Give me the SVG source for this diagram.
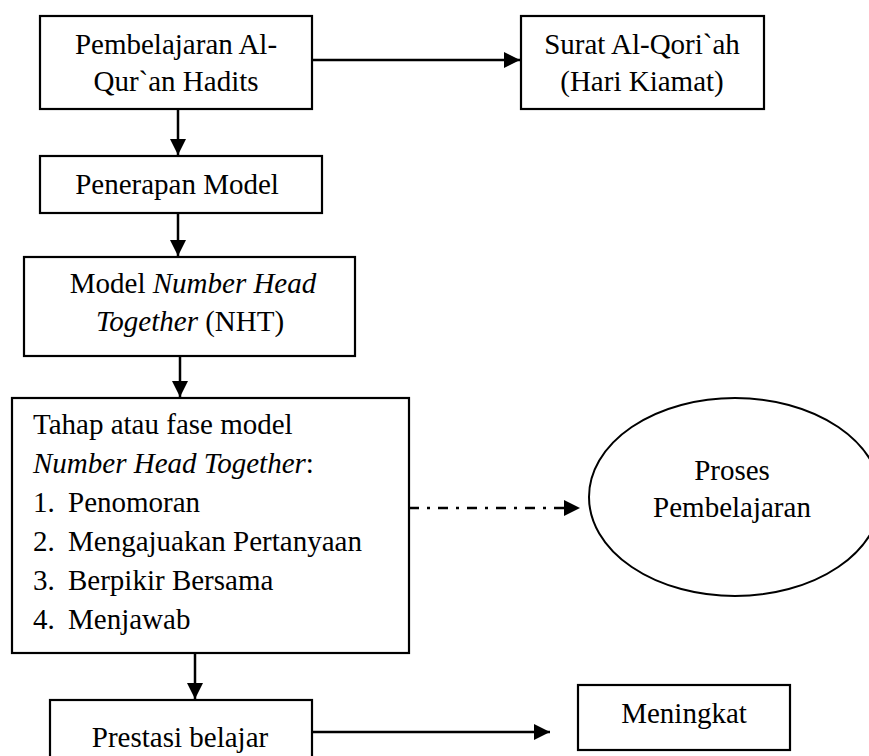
<svg xmlns="http://www.w3.org/2000/svg" width="869" height="756" viewBox="0 0 869 756">
<style>
.box{fill:#fff;stroke:#000;stroke-width:2.2}
.t{font-family:"Liberation Serif","Times New Roman",serif;font-size:29px;fill:#000}
.c{text-anchor:middle}
.i{font-style:italic}
.ln{stroke:#000;stroke-width:2.5;fill:none}
</style>
<defs>
<marker id="ah" markerUnits="userSpaceOnUse" markerWidth="18" markerHeight="18" refX="16" refY="8" orient="auto">
<path d="M0,0 L16,8 L0,16 z" fill="#000"/>
</marker>
</defs>
<rect width="869" height="756" fill="#fff"/>
<g id="connectors">
<line class="ln" x1="312" y1="60" x2="520" y2="60" marker-end="url(#ah)"/>
<line class="ln" x1="178" y1="109" x2="178" y2="155" marker-end="url(#ah)"/>
<line class="ln" x1="178" y1="213" x2="178" y2="256" marker-end="url(#ah)"/>
<line class="ln" x1="180" y1="356" x2="180" y2="397" marker-end="url(#ah)"/>
<line class="ln" x1="409" y1="508" x2="580" y2="508" stroke-dasharray="10 8 3 8" marker-end="url(#ah)"/>
<line class="ln" x1="195" y1="653" x2="195" y2="699" marker-end="url(#ah)"/>
<line class="ln" x1="312" y1="732" x2="550" y2="732" marker-end="url(#ah)"/>
</g>
<g id="n1">
<rect class="box" x="40" y="16" width="272" height="93"/>
<text class="t c" x="176" y="54">Pembelajaran Al-</text>
<text class="t c" x="176" y="91">Qur`an Hadits</text>
</g>
<g id="n2">
<rect class="box" x="521" y="16" width="243" height="93"/>
<text class="t c" x="642" y="54">Surat Al-Qori`ah</text>
<text class="t c" x="642" y="91">(Hari Kiamat)</text>
</g>
<g id="n3">
<rect class="box" x="40" y="156" width="282" height="57"/>
<text class="t c" x="177" y="194">Penerapan Model</text>
</g>
<g id="n4">
<rect class="box" x="24" y="257" width="331" height="99"/>
<text class="t c" x="193" y="293">Model <tspan class="i">Number Head</tspan></text>
<text class="t c" x="190" y="331"><tspan class="i">Together</tspan> (NHT)</text>
</g>
<g id="n5">
<rect class="box" x="12" y="398" width="397" height="255"/>
<text class="t" x="33" y="434">Tahap atau fase model</text>
<text class="t" x="33" y="473"><tspan class="i">Number Head Together</tspan>:</text>
<text class="t" x="33" y="512">1.</text><text class="t" x="68" y="512">Penomoran</text>
<text class="t" x="33" y="551">2.</text><text class="t" x="68" y="551">Mengajuakan Pertanyaan</text>
<text class="t" x="33" y="590">3.</text><text class="t" x="68" y="590">Berpikir Bersama</text>
<text class="t" x="33" y="629">4.</text><text class="t" x="68" y="629">Menjawab</text>
</g>
<g id="n6">
<ellipse cx="735" cy="497" rx="146" ry="99" fill="#fff" stroke="#000" stroke-width="2"/>
<text class="t c" x="732" y="480">Proses</text>
<text class="t c" x="732" y="517">Pembelajaran</text>
</g>
<g id="n7">
<rect class="box" x="50" y="700" width="262" height="62"/>
<text class="t c" x="180" y="747">Prestasi belajar</text>
</g>
<g id="n8">
<rect class="box" x="578" y="685" width="212" height="65"/>
<text class="t c" x="684" y="723">Meningkat</text>
</g>
</svg>
